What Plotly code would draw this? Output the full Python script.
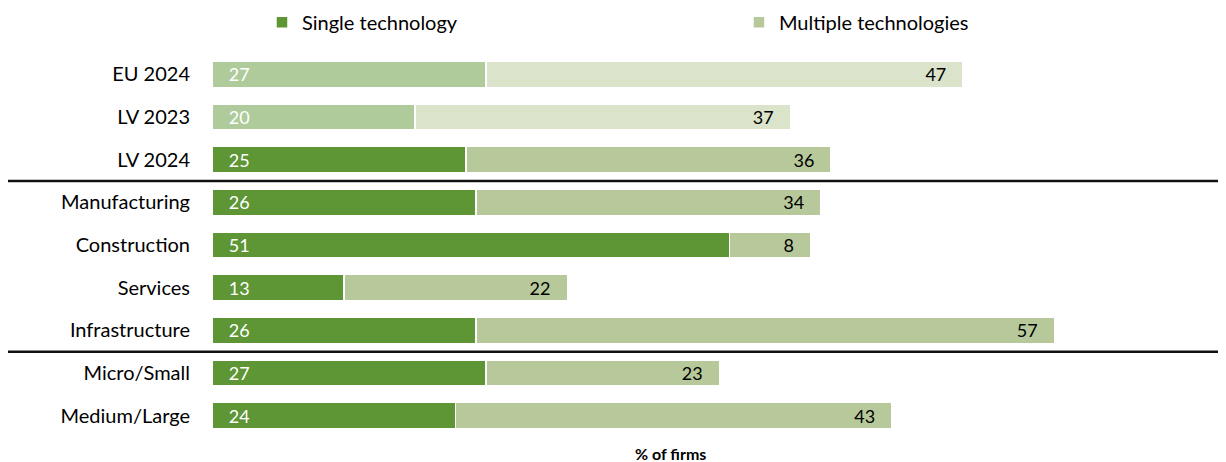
import plotly.graph_objects as go

# ---- data (top to bottom as in the picture) ----
categories = ["EU 2024", "LV 2023", "LV 2024", "Manufacturing", "Construction",
              "Services", "Infrastructure", "Micro/Small", "Medium/Large"]
single_tech = [27, 20, 25, 26, 51, 13, 26, 27, 24]
multiple_tech = [47, 37, 36, 34, 8, 22, 57, 23, 43]
# categories after which a separator line is drawn
group_ends = ["LV 2024", "Infrastructure"]
# which rows are comparison rows (lighter colours)
highlight_light = ["EU 2024", "LV 2023"]

series_names = ["Single technology", "Multiple technologies"]
x_title = "% of firms"

# ---- styling ----
FONT = "Lato"
c_single = "#5e9535"
c_multi = "#b7c99a"
c_single_light = "#afcb9c"
c_multi_light = "#dbe4ca"

# plotly category axis puts the first category at the bottom -> reverse
cats = categories[::-1]
s_vals = single_tech[::-1]
m_vals = multiple_tech[::-1]
s_cols = [c_single_light if c in highlight_light else c_single for c in cats]
m_cols = [c_multi_light if c in highlight_light else c_multi for c in cats]

NB = "\u00a0"
fig = go.Figure()
fig.add_trace(go.Bar(
    y=cats, x=s_vals, orientation="h", name=series_names[0], legend="legend",
    marker=dict(color=s_cols, line=dict(color="white", width=1.5)),
    text=[f"{NB*3}{v}" for v in s_vals], textposition="inside",
    insidetextanchor="start", textangle=0,
    textfont=dict(family=FONT, size=18, color="white"),
    cliponaxis=False,
))
fig.add_trace(go.Bar(
    y=cats, x=m_vals, orientation="h", name=series_names[1], legend="legend2",
    marker=dict(color=m_cols, line=dict(color="white", width=1.5)),
    text=[f"{v}{NB*3}" for v in m_vals], textposition="inside",
    insidetextanchor="end", textangle=0,
    textfont=dict(family=FONT, size=18, color="black"),
    cliponaxis=False,
))

# separator lines between groups
for name in group_ends:
    idx = cats.index(name)
    fig.add_shape(type="line", xref="paper", yref="y",
                  x0=-0.2012, x1=1.0, y0=idx - 0.5, y1=idx - 0.5,
                  line=dict(color="#111111", width=2.5))

fig.add_annotation(text=f"<b>{x_title}</b>", xref="paper", yref="paper",
                   x=0.4517, y=0, yshift=-5, yanchor="top", showarrow=False,
                   font=dict(family=FONT, size=16, color="black"))

legend_common = dict(orientation="h", xanchor="left", y=1.08, yanchor="middle",
                     font=dict(family=FONT, size=20, color="black"),
                     bgcolor="rgba(0,0,0,0)")

# the page body adds an 8px offset, so the figure is 8px smaller
fig.update_layout(
    width=1218, height=454,
    margin=dict(l=204, r=0, t=45, b=25, autoexpand=False),
    barmode="stack", bargap=0.39,
    uniformtext=dict(minsize=18, mode="show"),
    paper_bgcolor="white", plot_bgcolor="white",
    font=dict(family=FONT, size=20, color="black"),
    showlegend=True,
    legend=dict(x=0.0493, **legend_common),
    legend2=dict(x=0.5197, **legend_common),
    xaxis=dict(range=[0, 99.9], showticklabels=False, showgrid=False,
               zeroline=False, showline=False, ticks="", fixedrange=True,
               automargin=False),
    yaxis=dict(type="category", range=[-0.5, len(cats) - 0.5], showgrid=False,
               zeroline=False, showline=False, ticks="outside", ticklen=17,
               tickcolor="rgba(0,0,0,0)", automargin=False,
               tickfont=dict(family=FONT, size=20, color="black")),
)

fig.write_html("out.html")
